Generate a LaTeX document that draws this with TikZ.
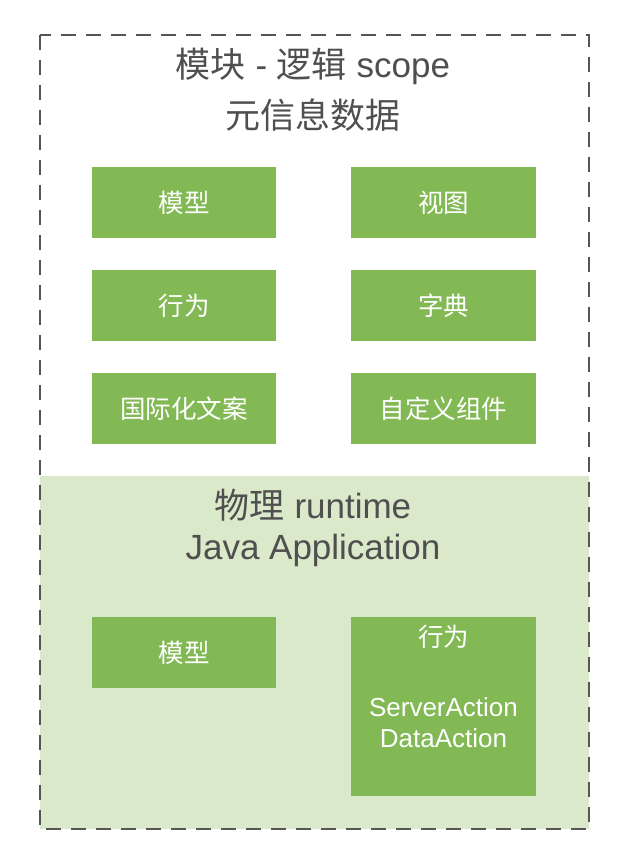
\documentclass[tikz,border=0pt]{standalone}
\usepackage{fontspec}
\setmainfont{Liberation Sans}
\newfontfamily\cjk{Noto Sans CJK SC}
\begin{document}
\begin{tikzpicture}[x=1pt,y=-1pt,
  gbox/.style={fill=boxgreen,draw=none,text=white,font=\fontsize{25.5}{30}\selectfont},
  ttl/.style={text=titlegray,font=\fontsize{35}{40}\selectfont,inner sep=0pt,anchor=center}]
\definecolor{boxgreen}{HTML}{82B955}
\definecolor{lightgreen}{HTML}{D9E9CA}
\definecolor{titlegray}{HTML}{4F4F4F}
\definecolor{dashgray}{HTML}{555555}
\useasboundingbox (0,0) rectangle (626,866);
\fill[white] (0,0) rectangle (626,866);
\fill[lightgreen] (40,476) rectangle (589,829);
\draw[dashgray,line width=2pt,dash pattern=on 15pt off 10pt] (40,35) rectangle (589,829);
\node[ttl] (t1) at (313,66) {{\cjk 模块} - {\cjk 逻辑} scope};
\node[ttl] (t2) at (313,115) {\cjk 元信息数据};
\node[ttl] (t3) at (313,505) {{\cjk 物理} runtime};
\node[ttl] (t4) at (313,550) {Java Application};
\path[gbox] (92,167) rectangle (276,238) node[midway] (m1) {\cjk 模型};
\path[gbox] (351,167) rectangle (536,238) node[midway] (v1) {\cjk 视图};
\path[gbox] (92,270) rectangle (276,341) node[midway] (a1) {\cjk 行为};
\path[gbox] (351,270) rectangle (536,341) node[midway] (d1) {\cjk 字典};
\path[gbox] (92,373) rectangle (276,444) node[midway] (i1) {\cjk 国际化文案};
\path[gbox] (351,373) rectangle (536,444) node[midway] (c1) {\cjk 自定义组件};
\path[gbox] (92,617) rectangle (276,688) node[midway] (m2) {\cjk 模型};
\path[gbox] (351,617) rectangle (536,796);
\node[text=white,font=\fontsize{25.5}{30}\selectfont] (a2) at (443.5,637) {\cjk 行为};
\node[text=white,font=\fontsize{26}{31}\selectfont,align=center] (sa) at (443.5,723) {ServerAction\\DataAction};
\end{tikzpicture}
\end{document}
